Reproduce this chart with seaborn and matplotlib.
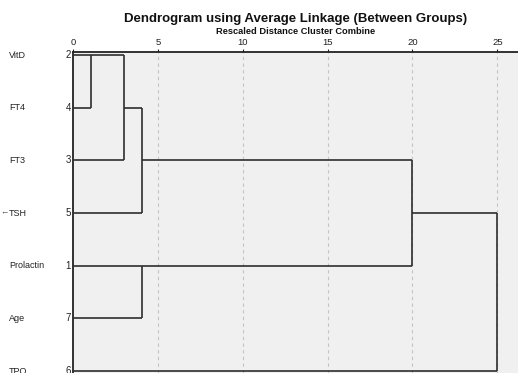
import matplotlib
matplotlib.use("Agg")
import matplotlib.pyplot as plt
import seaborn as sns

sns.set_theme(style="white")
plt.rcParams["font.family"] = ["Liberation Sans", "DejaVu Sans"]

# Variables in dendrogram order, with their case numbers
labels = ["VitD", "FT4", "FT3", "TSH", "Prolactin", "Age", "TPO"]
case_ids = [2, 4, 3, 5, 1, 7, 6]

# Agglomeration schedule: nodes 0-6 are leaves, 7+ are clusters
merge_left = [0, 7, 8, 4, 9, 11]
merge_right = [1, 2, 3, 5, 10, 6]
merge_dist = [1.05, 3.0, 4.05, 4.05, 20.0, 25.0]

ticks = [0, 5, 10, 15, 20, 25]

W, H = 518, 373
fig = plt.figure(figsize=(W / 100, H / 100), dpi=100)
ax_left = 73 / W
ax_top = 1 - 52 / H
ax = fig.add_axes([ax_left, 0.0, 1.0 - ax_left + 0.002, ax_top])
ax.set_facecolor("#f0f0f0")

# node positions: leaves by row, clusters drawn at the (lower) midpoint row
node_y = list(range(len(labels)))
node_x = [0.0] * len(labels)
line_kw = dict(color="#2e2e2e", lw=1.2, solid_capstyle="butt", zorder=3)
for a, b, d in zip(merge_left, merge_right, merge_dist):
    ya, yb = node_y[a], node_y[b]
    ax.plot([node_x[a], d], [ya, ya], **line_kw)
    ax.plot([node_x[b], d], [yb, yb], **line_kw)
    ax.plot([d, d], [ya, yb], **line_kw)
    node_y.append((ya + yb) // 2)
    node_x.append(d)

# dashed reference lines
for t in ticks[1:]:
    ax.axvline(t, color="#c4c4c4", lw=0.8, ls=(0, (3, 3)), zorder=1)

ax.set_xlim(0, (W - 73) / 17.0 + 0.1)
ax.set_ylim(6 + 2 / 52.67, -3 / 52.67)

ax.xaxis.tick_top()
ax.set_xticks(ticks)
ax.set_xticklabels([str(t) for t in ticks], fontsize=6.8, color="#222222")
ax.tick_params(axis="x", length=2, width=0.8, pad=1.5, colors="#222222")
ax.set_yticks([])

for side in ["right", "bottom"]:
    ax.spines[side].set_visible(False)
for side in ["top", "left"]:
    ax.spines[side].set_color("#222222")
    ax.spines[side].set_linewidth(1.3)

# row labels and case numbers
for i, (name, cid) in enumerate(zip(labels, case_ids)):
    yf = 1 - (55 + i * 52.67) / H
    fig.text(9 / W, yf, name, fontsize=6.5, ha="left", va="center", color="#222222")
    fig.text(71 / W, yf, str(cid), fontsize=7, ha="right", va="center", color="#222222")

fig.text(0.5 / W, 1 - 213 / H, "\u2190", fontsize=6, ha="left", va="center", color="#444444")

cx = (ax_left + 1.0) / 2
fig.text(cx, 1 - 19 / H, "Dendrogram using Average Linkage (Between Groups)",
         fontsize=9.5, fontweight="bold", ha="center", va="center", color="#111111")
fig.text(cx, 1 - 32 / H, "Rescaled Distance Cluster Combine",
         fontsize=6.7, fontweight="bold", ha="center", va="center", color="#111111")

fig.savefig("out.png", dpi=100)
